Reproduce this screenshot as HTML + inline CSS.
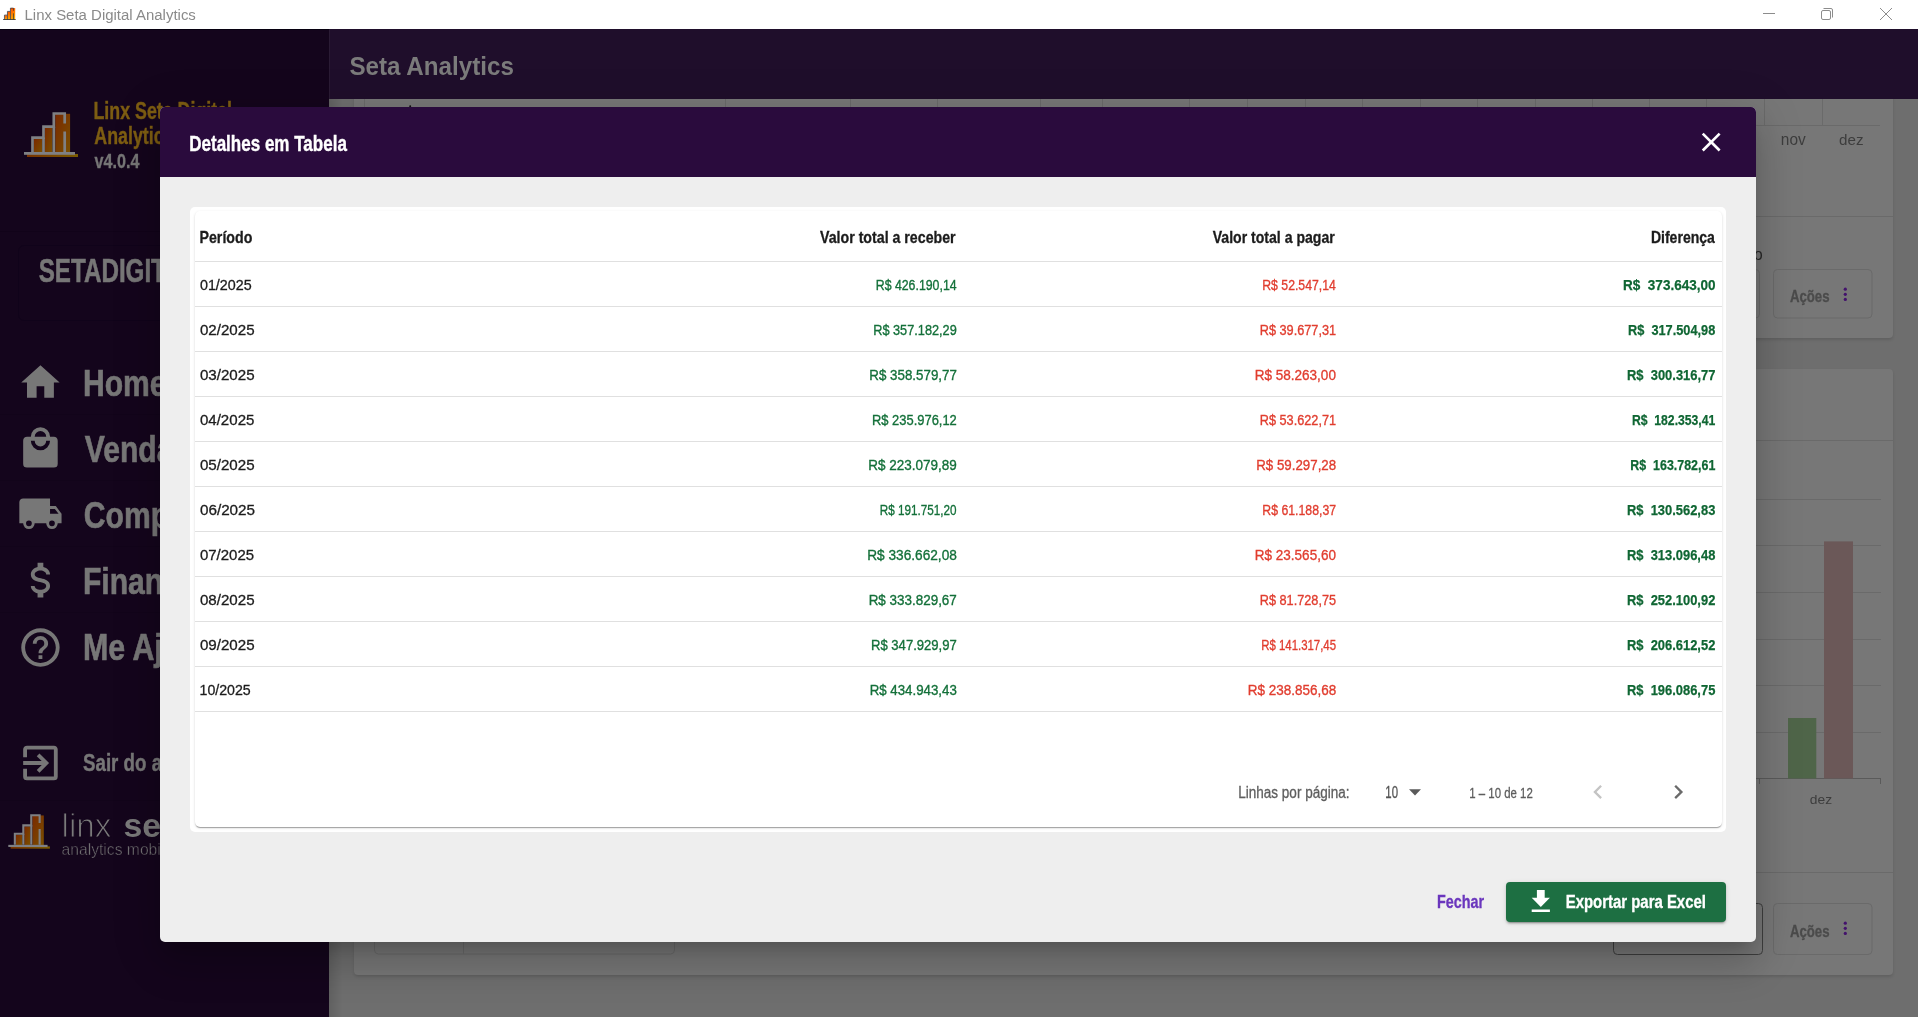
<!DOCTYPE html>
<html><head><meta charset="utf-8">
<style>
*{margin:0;padding:0;box-sizing:border-box}
html,body{width:1918px;height:1017px;overflow:hidden;background:#6e6e6e;font-family:"Liberation Sans",sans-serif}
.a{position:absolute}
svg.full{position:absolute;left:0;top:0;width:1918px;height:1017px;overflow:visible;will-change:transform}
svg text{font-family:"Liberation Sans",sans-serif}
#tb{left:0;top:0;width:1918px;height:29px;background:#fff}
#side{left:0;top:29px;width:329px;height:988px;background:#14051c}
#hdr{left:329px;top:29px;width:1589px;height:70px;background:#1f0e2b}
.card{background:#777777;border-radius:4px;box-shadow:0 2px 3px rgba(0,0,0,.12)}
#modal{left:160px;top:107px;width:1596px;height:835px;background:#eeeeee;border-radius:5px;overflow:hidden;
 box-shadow:0 11px 15px -7px rgba(0,0,0,.18),0 24px 38px 3px rgba(0,0,0,.12),0 9px 46px 8px rgba(0,0,0,.1)}
#mh{left:0;top:0;width:1596px;height:70px;background:#2a0b3d}
#ocard{left:30px;top:100px;width:1536px;height:625px;background:#fff;border-radius:5px}
#icard{left:34.5px;top:104px;width:1527px;height:616px;background:#fff;border-radius:5px;box-shadow:0 2px 1px -1px rgba(0,0,0,.2),0 1px 1px 0 rgba(0,0,0,.14),0 1px 3px 0 rgba(0,0,0,.12)}
.hl{position:absolute;left:34.5px;width:1527px;height:1px;background:#e0e0e0}
#xbtn{left:1346px;top:775px;width:220px;height:40px;background:#1d6f42;border-radius:4px;
 box-shadow:0 3px 1px -2px rgba(0,0,0,.2),0 2px 2px 0 rgba(0,0,0,.14),0 1px 5px 0 rgba(0,0,0,.12)}
</style></head><body>
<!-- ===== background app (already dimmed) ===== -->
<div class="a" id="tb"></div>
<div class="a" id="side"></div>
<div class="a" style="left:0;top:29px;width:329px;height:1px;background:#06000f"></div>
<div class="a" style="left:329px;top:29px;width:1589px;height:1px;background:#12001e"></div>
<div class="a" style="left:0;top:231px;width:329px;height:1px;background:#110319"></div>
<div class="a" style="left:18px;top:245px;width:320px;height:76px;border:1px solid #10031a;border-radius:6px"></div>
<div class="a" style="left:0;top:414px;width:329px;height:1px;background:#12041a"></div>
<div class="a" style="left:0;top:480px;width:329px;height:1px;background:#12041a"></div>
<div class="a" style="left:0;top:546px;width:329px;height:1px;background:#12041a"></div>
<div class="a" style="left:0;top:612px;width:329px;height:1px;background:#12041a"></div>
<div class="a" style="left:0;top:800px;width:329px;height:1px;background:#12041a"></div>
<div class="a" id="hdr"></div>
<div class="a" style="left:329px;top:30px;width:1px;height:69px;background:#2a1b34"></div>
<!-- page cards -->
<div class="a card" style="left:354px;top:60px;width:1539px;height:278px"></div>
<div class="a card" style="left:354px;top:369px;width:1539px;height:606px"></div>
<div class="a" style="left:329px;top:99px;width:14px;height:918px;background:linear-gradient(90deg,rgba(0,0,0,.12),rgba(0,0,0,0))"></div>
<!-- re-draw header over card 1 top -->
<div class="a" style="left:330px;top:30px;width:1588px;height:69px;background:#1f0e2b"></div>

<svg class="full" viewBox="0 0 1918 1017">
 <defs>
  <linearGradient id="lg1" x1="0" y1="0" x2="1" y2="1"><stop offset="0" stop-color="#7a2800"/><stop offset="1" stop-color="#7a5000"/></linearGradient>
  <linearGradient id="lg2" x1="0" y1="0" x2="1" y2="0"><stop offset="0" stop-color="#7a3400"/><stop offset="1" stop-color="#7a5c00"/></linearGradient>
  <linearGradient id="ti" x1="0" y1="0" x2="0.3" y2="1"><stop offset="0" stop-color="#ff4a00"/><stop offset="1" stop-color="#ffa800"/></linearGradient>
  <g id="logo">
   <rect x="33.9" y="138.9" width="8.2" height="13.3" fill="url(#lg1)"/>
   <rect x="44.8" y="128" width="7.5" height="24.2" fill="url(#lg1)"/>
   <rect x="55.3" y="113.8" width="14.8" height="38.4" fill="url(#lg1)"/>
   <rect x="27" y="154" width="51" height="3" fill="url(#lg2)"/>
   <path d="M32.5 152 V137.6 H43.5 V126.7 H53.8 V113.5 H64.7 V123.6 M64.7 131.5 V152" fill="none" stroke="#7f8083" stroke-width="2.7"/>
   <path d="M43.5 137.6 V152 M53.8 126.7 V152" fill="none" stroke="#7f8083" stroke-width="2.7"/>
   <rect x="24" y="152" width="51" height="2.8" fill="#7f8083"/>
  </g>
 </defs>
 <!-- title bar icon -->
 <g>
  <rect x="4.8" y="15.4" width="2.6" height="4.1" fill="url(#ti)"/>
  <rect x="7.7" y="11.7" width="2.6" height="7.8" fill="url(#ti)"/>
  <rect x="10.7" y="8.1" width="4.5" height="11.4" fill="url(#ti)"/>
  <path d="M4.45 19.5 V15.1 H7.45 V11.4 H10.45 V8.15 H13.45 V10.8 M13.45 13.3 V19.5" stroke="#333" stroke-width="0.75" fill="none"/>
  <path d="M7.45 15.1 V19.5 M10.45 11.4 V19.5" stroke="#333" stroke-width="0.75" fill="none"/>
  <rect x="3.1" y="19.1" width="12.6" height="0.85" fill="#333"/>
 </g>
 <!-- window controls -->
 <rect x="1763" y="13" width="12" height="1" fill="#8c8c8c"/>
 <rect x="1821.5" y="10.5" width="9" height="9" rx="1.5" fill="none" stroke="#8c8c8c" stroke-width="1"/>
 <path d="M1823.5 8.5 H1831 a1.5 1.5 0 0 1 1.5 1.5 V17.5" fill="none" stroke="#8c8c8c" stroke-width="1"/>
 <path d="M1880 8 L1892 20 M1892 8 L1880 20" stroke="#8c8c8c" stroke-width="1"/>
 <!-- sidebar logo -->
 <use href="#logo"/>
 <use href="#logo" transform="translate(8.3 812.5) scale(0.77) translate(-24 -110)"/>
 <!-- sidebar icons (mdi) -->
 <g fill="#777777">
  <path transform="translate(17.4 359.4) scale(1.92)" d="M10,20V14H14V20H19V12H22L12,3L2,12H5V20H10Z"/>
  <path transform="translate(17.4 425.3) scale(1.92)" d="M12,13A5,5 0 0,1 7,8H9A3,3 0 0,0 12,11A3,3 0 0,0 15,8H17A5,5 0 0,1 12,13M12,3A3,3 0 0,1 15,6H9A3,3 0 0,1 12,3M19,6H17A5,5 0 0,0 12,1A5,5 0 0,0 7,6H5C3.89,6 3,6.89 3,8V20A2,2 0 0,0 5,22H19A2,2 0 0,0 21,20V8C21,6.89 20.1,6 19,6Z"/>
  <path transform="translate(17.4 490.7) scale(1.92)" d="M18,18.5A1.5,1.5 0 0,1 16.5,17A1.5,1.5 0 0,1 18,15.5A1.5,1.5 0 0,1 19.5,17A1.5,1.5 0 0,1 18,18.5M19.5,9.5L21.46,12H17V9.5M6,18.5A1.5,1.5 0 0,1 4.5,17A1.5,1.5 0 0,1 6,15.5A1.5,1.5 0 0,1 7.5,17A1.5,1.5 0 0,1 6,18.5M20,8H17V4H3C1.89,4 1,4.89 1,6V17H3A3,3 0 0,0 6,20A3,3 0 0,0 9,17H15A3,3 0 0,0 18,20A3,3 0 0,0 21,17H23V12L20,8Z"/>
  <path transform="translate(17.4 557.1) scale(1.92)" d="M7,15H9C9,16.08 10.37,17 12,17C13.63,17 15,16.08 15,15C15,13.9 13.96,13.5 11.76,12.97C9.64,12.44 7,11.78 7,9C7,7.21 8.47,5.69 10.5,5.18V3H13.5V5.18C15.53,5.69 17,7.21 17,9H15C15,7.92 13.63,7 12,7C10.37,7 9,7.92 9,9C9,10.1 10.04,10.5 12.24,11.03C14.36,11.56 17,12.22 17,15C17,16.79 15.53,18.31 13.5,18.82V21H10.5V18.82C8.47,18.31 7,16.79 7,15Z"/>
  <path transform="translate(17.4 624.5) scale(1.92)" d="M11,18H13V16H11V18M12,2A10,10 0 0,0 2,12A10,10 0 0,0 12,22A10,10 0 0,0 22,12A10,10 0 0,0 12,2M12,20C7.59,20 4,16.41 4,12C4,7.59 7.59,4 12,4C16.41,4 20,7.59 20,12C20,16.41 16.41,20 12,20M12,6A4,4 0 0,0 8,10H10A2,2 0 0,1 12,8A2,2 0 0,1 14,10C14,12 11,11.75 11,15H13C13,12.75 16,12.5 16,10A4,4 0 0,0 12,6Z"/>
  <path transform="translate(17.4 740) scale(1.92)" d="M19,3H5C3.89,3 3,3.89 3,5V9H5V5H19V19H5V15H3V19A2,2 0 0,0 5,21H19A2,2 0 0,0 21,19V5C21,3.89 20.1,3 19,3M10.08,15.58L11.5,17L16.5,12L11.5,7L10.08,8.41L12.67,11H3V13H12.67L10.08,15.58Z"/>
 </g>
 <!-- right side background details: card 1 -->
 <g stroke="#6a6a6a" stroke-width="1" fill="none">
  <path d="M1764.5 99 V125.5 M1822.5 99 V125.5 M1706.5 99 V125.5 M1649.5 99 V125.5 M364.5 99 V107 M725.5 99 V107 M850.5 99 V107 M937.5 99 V107 M1040.5 99 V107 M1102.5 99 V107 M1189.5 99 V107 M1247.5 99 V107 M1305.5 99 V107 M1362.5 99 V107 M1420.5 99 V107 M1477.5 99 V107 M1535.5 99 V107 M1592.5 99 V107"/>
  <path d="M354 125.5 H1880"/>
  <path d="M354 216.5 H1893"/>
  <rect x="1773.5" y="269.5" width="98.5" height="48.5" rx="4"/>
  <rect x="1600.5" y="269.5" width="159" height="48.5" rx="4"/>
 </g>
 <g fill="#43126c"><circle cx="1845.3" cy="289.2" r="1.6"/><circle cx="1845.3" cy="294.3" r="1.6"/><circle cx="1845.3" cy="299.4" r="1.6"/></g>
 <!-- card 2 -->
 <g stroke="#6a6a6a" stroke-width="1" fill="none">
  <path d="M354 440.5 H1893"/>
  <path d="M1700 499.5 H1881 M1700 545.5 H1881 M1700 592.5 H1881 M1700 639.5 H1881 M1700 685.5 H1881 M1700 732.5 H1881"/>
  <path d="M354 872.5 H1893"/>
  <rect x="1773.5" y="903.5" width="98.5" height="51" rx="4"/>
  <rect x="374.5" y="903.5" width="300" height="50.5" rx="4"/>
  <path d="M463.5 903.5 V954"/>
 </g>
 <path d="M1700 778.5 H1881 M1759.5 778.5 V784 M1880.5 778.5 V784" stroke="#5a5a5a" stroke-width="1" fill="none"/>
 <rect x="1788" y="718" width="28.3" height="60.5" fill="#4f6549"/>
 <rect x="1824" y="541.4" width="29" height="237.1" fill="#6b5858"/>
 <rect x="1613.5" y="903.5" width="149" height="51" rx="4" fill="none" stroke="#3e3e3e" stroke-width="1"/>
 <g fill="#43126c"><circle cx="1845.3" cy="923.2" r="1.6"/><circle cx="1845.3" cy="928.3" r="1.6"/><circle cx="1845.3" cy="933.4" r="1.6"/></g>
<circle cx="410.2" cy="106.3" r="1" fill="#111"/>
<text x="24.54" y="19.90" font-size="15.08" font-weight="normal" fill="#8a8a8a" textLength="171.33" lengthAdjust="spacingAndGlyphs">Linx Seta Digital Analytics</text>
<text x="349.42" y="74.90" font-size="25.17" font-weight="bold" fill="#7b7b7b" textLength="164.55" lengthAdjust="spacingAndGlyphs">Seta Analytics</text>
<text x="93.49" y="118.75" font-size="23.47" font-weight="bold" fill="#7d5d12" textLength="138.57" lengthAdjust="spacingAndGlyphs" stroke="#7d5d12" stroke-width="0.42">Linx Seta Digital</text>
<text x="94.32" y="144.00" font-size="23.47" font-weight="bold" fill="#7d5d12" textLength="79.20" lengthAdjust="spacingAndGlyphs" stroke="#7d5d12" stroke-width="0.42">Analytics</text>
<text x="94.60" y="168.30" font-size="19.91" font-weight="bold" fill="#767676" textLength="44.90" lengthAdjust="spacingAndGlyphs" stroke="#767676" stroke-width="0.36">v4.0.4</text>
<text x="38.72" y="281.75" font-size="33.14" font-weight="bold" fill="#777777" textLength="157.62" lengthAdjust="spacingAndGlyphs" stroke="#777777" stroke-width="0.60">SETADIGITAL</text>
<text x="82.92" y="395.90" font-size="36.41" font-weight="bold" fill="#777777" textLength="83.67" lengthAdjust="spacingAndGlyphs" stroke="#777777" stroke-width="0.66">Home</text>
<text x="84.80" y="462.00" font-size="36.41" font-weight="bold" fill="#777777" textLength="105.46" lengthAdjust="spacingAndGlyphs" stroke="#777777" stroke-width="0.66">Vendas</text>
<text x="83.86" y="528.10" font-size="36.41" font-weight="bold" fill="#777777" textLength="130.53" lengthAdjust="spacingAndGlyphs" stroke="#777777" stroke-width="0.66">Compras</text>
<text x="82.92" y="594.20" font-size="36.41" font-weight="bold" fill="#777777" textLength="152.28" lengthAdjust="spacingAndGlyphs" stroke="#777777" stroke-width="0.66">Financeiro</text>
<text x="82.92" y="660.30" font-size="36.41" font-weight="bold" fill="#777777" textLength="133.86" lengthAdjust="spacingAndGlyphs" stroke="#777777" stroke-width="0.66">Me Ajude</text>
<text x="83.01" y="771.00" font-size="23.04" font-weight="bold" fill="#777777" textLength="155.13" lengthAdjust="spacingAndGlyphs" stroke="#777777" stroke-width="0.41">Sair do aplicativo</text>
<text x="61.52" y="837.40" font-size="33.77" font-weight="normal" fill="#7a7a7a" textLength="49.98" lengthAdjust="spacingAndGlyphs" stroke="#14051c" stroke-width="1.1">linx</text>
<text x="123.54" y="837.40" font-size="33.77" font-weight="bold" fill="#7a7a7a" textLength="67.59" lengthAdjust="spacingAndGlyphs">seta</text>
<text x="61.51" y="854.60" font-size="16.89" font-weight="normal" fill="#7a7a7a" textLength="111.51" lengthAdjust="spacingAndGlyphs" stroke="#14051c" stroke-width="0.5">analytics mobile</text>
<text x="1789.89" y="301.80" font-size="16.07" font-weight="bold" fill="#4b4b4b" textLength="39.64" lengthAdjust="spacingAndGlyphs" stroke="#4b4b4b" stroke-width="0.29">Ações</text>
<text x="1789.89" y="937.20" font-size="16.07" font-weight="bold" fill="#4b4b4b" textLength="39.64" lengthAdjust="spacingAndGlyphs" stroke="#4b4b4b" stroke-width="0.29">Ações</text>
<text x="1753.94" y="260.00" font-size="15.62" font-weight="normal" fill="#262626" textLength="8.69" lengthAdjust="spacingAndGlyphs">o</text>
<text x="1809.87" y="804.30" font-size="13.62" font-weight="normal" fill="#3d3d3d" textLength="22.28" lengthAdjust="spacingAndGlyphs">dez</text>
<text x="1780.84" y="144.80" font-size="16.38" font-weight="normal" fill="#3d3d3d" textLength="24.86" lengthAdjust="spacingAndGlyphs">nov</text>
<text x="1839.03" y="144.80" font-size="14.43" font-weight="normal" fill="#3d3d3d" textLength="24.49" lengthAdjust="spacingAndGlyphs">dez</text>
</svg>

<!-- ===== modal ===== -->
<div class="a" id="modal">
  <div class="a" id="mh"></div>
  <div class="a" id="ocard"></div>
  <div class="a" id="icard"></div>
  <div class="hl" style="top:154px"></div>
  <div class="hl" style="top:199px"></div>
  <div class="hl" style="top:244px"></div>
  <div class="hl" style="top:289px"></div>
  <div class="hl" style="top:334px"></div>
  <div class="hl" style="top:379px"></div>
  <div class="hl" style="top:424px"></div>
  <div class="hl" style="top:469px"></div>
  <div class="hl" style="top:514px"></div>
  <div class="hl" style="top:559px"></div>
  <div class="hl" style="top:604px"></div>
  <div class="a" id="xbtn"></div>
</div>
<svg class="full" viewBox="0 0 1918 1017">
 <!-- close X -->
 <path transform="translate(1695.1 126) scale(1.34)" fill="#ffffff" d="M19,6.41L17.59,5L12,10.59L6.41,5L5,6.41L10.59,12L5,17.59L6.41,19L12,13.41L17.59,19L19,17.59L13.41,12L19,6.41Z"/>
 <!-- pagination -->
 <path d="M1409 789.3 H1421 L1415 795.6 Z" fill="#5a5a5a"/>
 <path transform="translate(1583.9 777.9) scale(1.17)" fill="#c4c4c4" d="M15.41,16.58L10.83,12L15.41,7.41L14,6L8,12L14,18L15.41,16.58Z"/>
 <path transform="translate(1664.3 777.9) scale(1.17)" fill="#6a6a6a" d="M8.59,16.58L13.17,12L8.59,7.41L10,6L16,12L10,18L8.59,16.58Z"/>
 <!-- download icon -->
 <path transform="translate(1525.2 886.1) scale(1.3)" fill="#ffffff" d="M5,20H19V18H5M19,9H15V3H9V9H5L12,16L19,9Z"/>
<text x="189.24" y="150.50" font-size="22.04" font-weight="bold" fill="#ffffff" textLength="157.66" lengthAdjust="spacingAndGlyphs" stroke="#ffffff" stroke-width="0.40">Detalhes em Tabela</text>
<text x="199.51" y="243.00" font-size="17.07" font-weight="bold" fill="#1b1b1b" textLength="52.85" lengthAdjust="spacingAndGlyphs" stroke="#1b1b1b" stroke-width="0.31">Período</text>
<text x="820.00" y="242.90" font-size="17.07" font-weight="bold" fill="#1b1b1b" textLength="135.60" lengthAdjust="spacingAndGlyphs" stroke="#1b1b1b" stroke-width="0.31">Valor total a receber</text>
<text x="1212.70" y="242.90" font-size="17.07" font-weight="bold" fill="#1b1b1b" textLength="122.10" lengthAdjust="spacingAndGlyphs" stroke="#1b1b1b" stroke-width="0.31">Valor total a pagar</text>
<text x="1650.92" y="243.00" font-size="17.07" font-weight="bold" fill="#1b1b1b" textLength="63.99" lengthAdjust="spacingAndGlyphs" stroke="#1b1b1b" stroke-width="0.31">Diferença</text>
<text x="199.95" y="289.70" font-size="14.79" font-weight="normal" fill="#1c1c1c" textLength="51.73" lengthAdjust="spacingAndGlyphs" stroke-width="0.3" stroke="#1c1c1c">01/2025</text>
<text x="875.74" y="289.70" font-size="15.08" font-weight="normal" fill="#137039" textLength="80.87" lengthAdjust="spacingAndGlyphs" stroke-width="0.35" stroke="#137039">R$ 426.190,14</text>
<text x="1262.24" y="289.70" font-size="15.08" font-weight="normal" fill="#e13d2f" textLength="73.66" lengthAdjust="spacingAndGlyphs" stroke-width="0.35" stroke="#e13d2f">R$ 52.547,14</text>
<text x="1623.05" y="289.70" font-size="15.36" font-weight="bold" fill="#0f6633" textLength="92.49" lengthAdjust="spacingAndGlyphs" stroke-width="0.25" stroke="#0f6633">R$  373.643,00</text>
<text x="199.93" y="334.70" font-size="14.79" font-weight="normal" fill="#1c1c1c" textLength="54.69" lengthAdjust="spacingAndGlyphs" stroke-width="0.3" stroke="#1c1c1c">02/2025</text>
<text x="873.20" y="334.70" font-size="15.08" font-weight="normal" fill="#137039" textLength="83.61" lengthAdjust="spacingAndGlyphs" stroke-width="0.35" stroke="#137039">R$ 357.182,29</text>
<text x="1259.71" y="334.70" font-size="15.08" font-weight="normal" fill="#e13d2f" textLength="76.41" lengthAdjust="spacingAndGlyphs" stroke-width="0.35" stroke="#e13d2f">R$ 39.677,31</text>
<text x="1628.00" y="334.70" font-size="15.36" font-weight="bold" fill="#0f6633" textLength="87.32" lengthAdjust="spacingAndGlyphs" stroke-width="0.25" stroke="#0f6633">R$  317.504,98</text>
<text x="199.93" y="379.70" font-size="14.79" font-weight="normal" fill="#1c1c1c" textLength="54.69" lengthAdjust="spacingAndGlyphs" stroke-width="0.3" stroke="#1c1c1c">03/2025</text>
<text x="869.36" y="379.70" font-size="15.08" font-weight="normal" fill="#137039" textLength="87.48" lengthAdjust="spacingAndGlyphs" stroke-width="0.35" stroke="#137039">R$ 358.579,77</text>
<text x="1254.64" y="379.70" font-size="15.08" font-weight="normal" fill="#e13d2f" textLength="81.29" lengthAdjust="spacingAndGlyphs" stroke-width="0.35" stroke="#e13d2f">R$ 58.263,00</text>
<text x="1626.99" y="379.70" font-size="15.36" font-weight="bold" fill="#0f6633" textLength="88.53" lengthAdjust="spacingAndGlyphs" stroke-width="0.25" stroke="#0f6633">R$  300.316,77</text>
<text x="199.93" y="424.70" font-size="14.79" font-weight="normal" fill="#1c1c1c" textLength="54.48" lengthAdjust="spacingAndGlyphs" stroke-width="0.3" stroke="#1c1c1c">04/2025</text>
<text x="871.99" y="424.70" font-size="15.08" font-weight="normal" fill="#137039" textLength="84.83" lengthAdjust="spacingAndGlyphs" stroke-width="0.35" stroke="#137039">R$ 235.976,12</text>
<text x="1259.71" y="424.70" font-size="15.08" font-weight="normal" fill="#e13d2f" textLength="76.41" lengthAdjust="spacingAndGlyphs" stroke-width="0.35" stroke="#e13d2f">R$ 53.622,71</text>
<text x="1631.94" y="424.70" font-size="15.36" font-weight="bold" fill="#0f6633" textLength="83.37" lengthAdjust="spacingAndGlyphs" stroke-width="0.25" stroke="#0f6633">R$  182.353,41</text>
<text x="199.93" y="469.70" font-size="14.79" font-weight="normal" fill="#1c1c1c" textLength="54.69" lengthAdjust="spacingAndGlyphs" stroke-width="0.3" stroke="#1c1c1c">05/2025</text>
<text x="868.35" y="469.70" font-size="15.08" font-weight="normal" fill="#137039" textLength="88.50" lengthAdjust="spacingAndGlyphs" stroke-width="0.35" stroke="#137039">R$ 223.079,89</text>
<text x="1256.26" y="469.70" font-size="15.08" font-weight="normal" fill="#e13d2f" textLength="79.88" lengthAdjust="spacingAndGlyphs" stroke-width="0.35" stroke="#e13d2f">R$ 59.297,28</text>
<text x="1630.32" y="469.70" font-size="15.36" font-weight="bold" fill="#0f6633" textLength="84.99" lengthAdjust="spacingAndGlyphs" stroke-width="0.25" stroke="#0f6633">R$  163.782,61</text>
<text x="199.92" y="514.70" font-size="14.79" font-weight="normal" fill="#1c1c1c" textLength="55.20" lengthAdjust="spacingAndGlyphs" stroke-width="0.3" stroke="#1c1c1c">06/2025</text>
<text x="879.79" y="514.70" font-size="15.08" font-weight="normal" fill="#137039" textLength="76.81" lengthAdjust="spacingAndGlyphs" stroke-width="0.35" stroke="#137039">R$ 191.751,20</text>
<text x="1262.34" y="514.70" font-size="15.08" font-weight="normal" fill="#e13d2f" textLength="73.76" lengthAdjust="spacingAndGlyphs" stroke-width="0.35" stroke="#e13d2f">R$ 61.188,37</text>
<text x="1626.99" y="514.70" font-size="15.36" font-weight="bold" fill="#0f6633" textLength="88.33" lengthAdjust="spacingAndGlyphs" stroke-width="0.25" stroke="#0f6633">R$  130.562,83</text>
<text x="199.93" y="559.70" font-size="14.79" font-weight="normal" fill="#1c1c1c" textLength="54.18" lengthAdjust="spacingAndGlyphs" stroke-width="0.3" stroke="#1c1c1c">07/2025</text>
<text x="867.23" y="559.70" font-size="15.08" font-weight="normal" fill="#137039" textLength="89.62" lengthAdjust="spacingAndGlyphs" stroke-width="0.35" stroke="#137039">R$ 336.662,08</text>
<text x="1254.84" y="559.70" font-size="15.08" font-weight="normal" fill="#e13d2f" textLength="81.09" lengthAdjust="spacingAndGlyphs" stroke-width="0.35" stroke="#e13d2f">R$ 23.565,60</text>
<text x="1626.99" y="559.70" font-size="15.36" font-weight="bold" fill="#0f6633" textLength="88.33" lengthAdjust="spacingAndGlyphs" stroke-width="0.25" stroke="#0f6633">R$  313.096,48</text>
<text x="199.93" y="604.70" font-size="14.79" font-weight="normal" fill="#1c1c1c" textLength="54.69" lengthAdjust="spacingAndGlyphs" stroke-width="0.3" stroke="#1c1c1c">08/2025</text>
<text x="868.65" y="604.70" font-size="15.08" font-weight="normal" fill="#137039" textLength="88.19" lengthAdjust="spacingAndGlyphs" stroke-width="0.35" stroke="#137039">R$ 333.829,67</text>
<text x="1259.71" y="604.70" font-size="15.08" font-weight="normal" fill="#e13d2f" textLength="76.41" lengthAdjust="spacingAndGlyphs" stroke-width="0.35" stroke="#e13d2f">R$ 81.728,75</text>
<text x="1626.99" y="604.70" font-size="15.36" font-weight="bold" fill="#0f6633" textLength="88.33" lengthAdjust="spacingAndGlyphs" stroke-width="0.25" stroke="#0f6633">R$  252.100,92</text>
<text x="199.93" y="649.70" font-size="14.79" font-weight="normal" fill="#1c1c1c" textLength="54.69" lengthAdjust="spacingAndGlyphs" stroke-width="0.3" stroke="#1c1c1c">09/2025</text>
<text x="870.98" y="649.70" font-size="15.08" font-weight="normal" fill="#137039" textLength="85.85" lengthAdjust="spacingAndGlyphs" stroke-width="0.35" stroke="#137039">R$ 347.929,97</text>
<text x="1261.21" y="649.70" font-size="15.08" font-weight="normal" fill="#e13d2f" textLength="74.85" lengthAdjust="spacingAndGlyphs" stroke-width="0.35" stroke="#e13d2f">R$ 141.317,45</text>
<text x="1626.99" y="649.70" font-size="15.36" font-weight="bold" fill="#0f6633" textLength="88.33" lengthAdjust="spacingAndGlyphs" stroke-width="0.25" stroke="#0f6633">R$  206.612,52</text>
<text x="199.51" y="694.70" font-size="14.79" font-weight="normal" fill="#1c1c1c" textLength="51.26" lengthAdjust="spacingAndGlyphs" stroke-width="0.3" stroke="#1c1c1c">10/2025</text>
<text x="869.66" y="694.70" font-size="15.08" font-weight="normal" fill="#137039" textLength="87.18" lengthAdjust="spacingAndGlyphs" stroke-width="0.35" stroke="#137039">R$ 434.943,43</text>
<text x="1247.65" y="694.70" font-size="15.08" font-weight="normal" fill="#e13d2f" textLength="88.50" lengthAdjust="spacingAndGlyphs" stroke-width="0.35" stroke="#e13d2f">R$ 238.856,68</text>
<text x="1626.99" y="694.70" font-size="15.36" font-weight="bold" fill="#0f6633" textLength="88.33" lengthAdjust="spacingAndGlyphs" stroke-width="0.25" stroke="#0f6633">R$  196.086,75</text>
<text x="1238.24" y="798.00" font-size="15.64" font-weight="normal" fill="#5e5e5e" textLength="111.28" lengthAdjust="spacingAndGlyphs" stroke="#5e5e5e" stroke-width="0.3">Linhas por página:</text>
<text x="1385.29" y="798.00" font-size="15.64" font-weight="normal" fill="#555555" textLength="12.70" lengthAdjust="spacingAndGlyphs" stroke="#555555" stroke-width="0.3">10</text>
<text x="1469.29" y="797.90" font-size="15.08" font-weight="normal" fill="#5e5e5e" textLength="63.48" lengthAdjust="spacingAndGlyphs" stroke="#5e5e5e" stroke-width="0.3">1 – 10 de 12</text>
<text x="1437.10" y="907.50" font-size="18.92" font-weight="bold" fill="#6a36bd" textLength="47.10" lengthAdjust="spacingAndGlyphs" stroke="#6a36bd" stroke-width="0.34">Fechar</text>
<text x="1565.77" y="907.50" font-size="18.92" font-weight="bold" fill="#ffffff" textLength="140.11" lengthAdjust="spacingAndGlyphs" stroke="#ffffff" stroke-width="0.34">Exportar para Excel</text>
</svg>
</body></html>
